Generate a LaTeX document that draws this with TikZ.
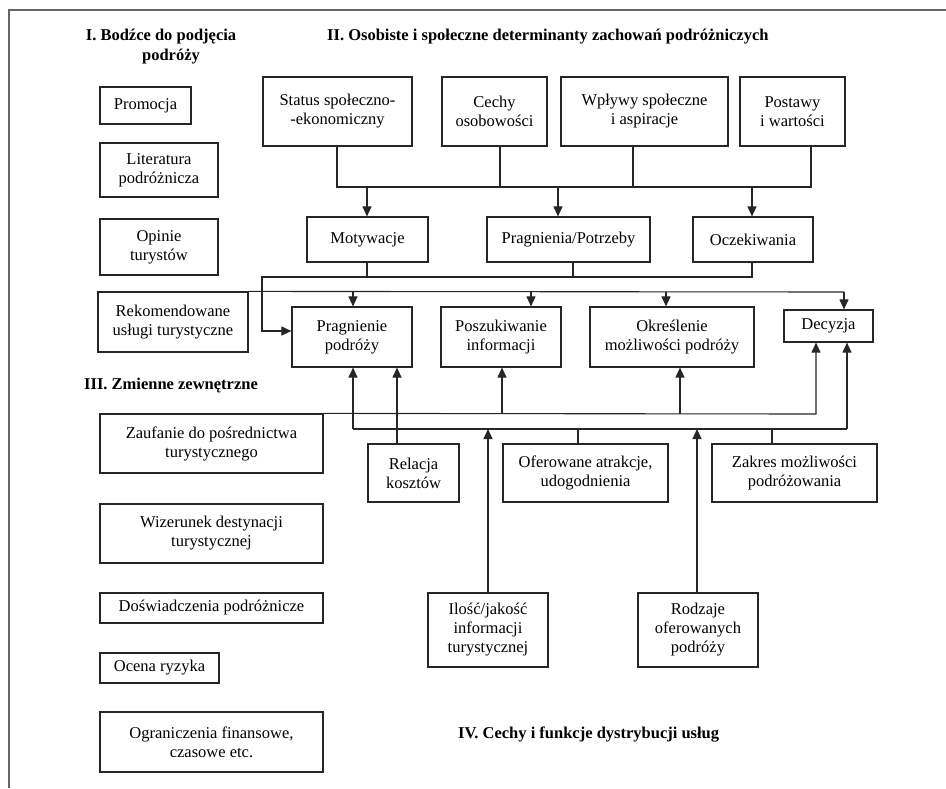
\documentclass[tikz,border=0pt]{standalone}
\usepackage{fontspec}
\setmainfont{Liberation Serif}
\usetikzlibrary{arrows.meta}
\begin{document}
\begin{tikzpicture}[x=1pt,y=-1pt,
  box/.style={draw=black!85, line width=1.2pt, inner sep=0pt, align=center,
    font=\fontsize{16.5}{19}\selectfont},
  conn/.style={draw=black!85, line width=1.1pt},
  arr/.style={conn, -{Triangle[length=10pt,width=9pt]}},
  head/.style={font=\fontsize{16.5}{20}\selectfont\bfseries, align=center, inner sep=0pt}]
\useasboundingbox (0,0) rectangle (946,788);
\fill[white] (0,0) rectangle (946,788);
% frame
\draw[line width=2pt, black!60] (9,788) -- (9,10) -- (946,10);
% headings
\node[head] (h1) at (161,47) {I. Bodźce do podjęcia\\\hspace*{20pt}podróży};
\node[head, anchor=west] (h2) at (327,37) {II. Osobiste i społeczne determinanty zachowań podróżniczych};
\node[head, anchor=west] (h3) at (84,386) {III. Zmienne zewnętrzne};
\node[head, anchor=west] (h4) at (458,735) {IV. Cechy i funkcje dystrybucji usług};
% left column I
\node[box, minimum width=91pt, minimum height=37pt] (prom) at (145.5,105.5) {Promocja};
\node[box, minimum width=118pt, minimum height=54pt] (lit) at (159,170) {Literatura\\podróżnicza};
\node[box, minimum width=118pt, minimum height=56pt] (opin) at (159,247) {Opinie\\turystów};
\node[box, minimum width=150pt, minimum height=60pt] (rek) at (173,322) {Rekomendowane\\usługi turystyczne};
% top row II
\node[box, minimum width=149pt, minimum height=69pt] (status) at (337.5,111.5) {Status społeczno-\\-ekonomiczny};
\node[box, minimum width=105pt, minimum height=69pt] (cechy) at (494.5,111.5) {Cechy\\osobowości};
\node[box, minimum width=167pt, minimum height=69pt] (wplywy) at (644.5,111.5) {Wpływy społeczne\\i aspiracje};
\node[box, minimum width=105pt, minimum height=69pt] (postawy) at (792.5,111.5) {Postawy\\i wartości};
% middle row
\node[box, minimum width=121pt, minimum height=45pt] (motyw) at (367.5,239.5) {Motywacje};
\node[box, minimum width=163pt, minimum height=45pt] (pragn) at (568.5,239.5) {Pragnienia/Potrzeby};
\node[box, minimum width=120pt, minimum height=45pt] (oczek) at (753,239.5) {Oczekiwania};
% process row
\node[box, minimum width=120pt, minimum height=60pt] (pragnienie) at (352,337) {Pragnienie\\podróży};
\node[box, minimum width=120pt, minimum height=60pt] (poszuk) at (501,337) {Poszukiwanie\\informacji};
\node[box, minimum width=164pt, minimum height=60pt] (okr) at (672,337) {Określenie\\możliwości podróży};
\node[box, minimum width=89pt, minimum height=32pt] (decyzja) at (828.5,326) {Decyzja};
% III column
\node[box, minimum width=223pt, minimum height=59pt] (zauf) at (211.5,443.5) {Zaufanie do pośrednictwa\\turystycznego};
\node[box, minimum width=223pt, minimum height=59pt] (wizer) at (211.5,533.5) {Wizerunek destynacji\\turystycznej};
\node[box, minimum width=223pt, minimum height=30pt] (dosw) at (211.5,608) {Doświadczenia podróżnicze};
\node[box, minimum width=119pt, minimum height=30pt] (ocena) at (159.5,668) {Ocena ryzyka};
\node[box, minimum width=223pt, minimum height=60pt] (ogran) at (211.5,742) {Ograniczenia finansowe,\\czasowe etc.};
% IV
\node[box, minimum width=91pt, minimum height=58pt] (relacja) at (413.5,473) {Relacja\\kosztów};
\node[box, minimum width=165pt, minimum height=58pt] (ofer) at (585.5,473) {Oferowane atrakcje,\\udogodnienia};
\node[box, minimum width=165pt, minimum height=58pt] (zakres) at (794.5,473) {Zakres możliwości\\podróżowania};
\node[box, minimum width=120pt, minimum height=74pt] (ilosc) at (488,630) {Ilość/jakość\\informacji\\turystycznej};
\node[box, minimum width=120pt, minimum height=74pt] (rodzaje) at (698,630) {Rodzaje\\oferowanych\\podróży};
% top bus
\coordinate (t1) at (337,187); \coordinate (t2) at (500,187);
\coordinate (t3) at (633,187); \coordinate (t4) at (811,187);
\draw[conn] (t1 |- status.south) -- (t1) -- (t4) -- (t4 |- postawy.south);
\draw[conn] (t2 |- cechy.south) -- (t2);
\draw[conn] (t3 |- wplywy.south) -- (t3);
\coordinate (a1) at (367,187); \coordinate (a2) at (558,187); \coordinate (a3) at (752,187);
\draw[arr] (a1) -- (a1 |- motyw.north);
\draw[arr] (a2) -- (a2 |- pragn.north);
\draw[arr] (a3) -- (a3 |- oczek.north);
% middle bus
\coordinate (m0) at (262,277); \coordinate (m1) at (367,277);
\coordinate (m2) at (573,277); \coordinate (m3) at (752,277);
\coordinate (m4) at (262,331);
\draw[conn] (m1 |- motyw.south) -- (m1);
\draw[conn] (m2 |- pragn.south) -- (m2);
\draw[arr] (m3 |- oczek.south) -- (m3) -- (m0) -- (m4) -- (m4 -| pragnienie.west);
% recommended bus
\coordinate (r1) at (844,292);
\coordinate (r2) at (353,292); \coordinate (r3) at (531,292); \coordinate (r4) at (666,292);
\draw[conn] (rek.north east) -- (r1);
\draw[arr] (r2) -- (r2 |- pragnienie.north);
\draw[arr] (r3) -- (r3 |- poszuk.north);
\draw[arr] (r4) -- (r4 |- okr.north);
\draw[arr] (r1) -- (r1 |- decyzja.north);
% line A (from III)
\coordinate (A1) at (816,414); \coordinate (A2) at (502,414); \coordinate (A3) at (680,414);
\draw[arr] (zauf.north east) -- (A1) -- (A1 |- decyzja.south);
\draw[arr] (A2) -- (A2 |- poszuk.south);
\draw[arr] (A3) -- (A3 |- okr.south);
% line B (from IV)
\coordinate (B0) at (353,429); \coordinate (B1) at (847,429);
\coordinate (B2) at (578,429); \coordinate (B3) at (772,429);
\coordinate (B4) at (488,429); \coordinate (B5) at (697,429);
\draw[conn] (B0) -- (B1);
\draw[arr] (B0) -- (B0 |- pragnienie.south);
\draw[arr] (B1) -- (B1 |- decyzja.south);
\draw[conn] (B2 |- ofer.north) -- (B2);
\draw[conn] (B3 |- zakres.north) -- (B3);
\draw[arr] (B4 |- ilosc.north) -- (B4);
\draw[arr] (B5 |- rodzaje.north) -- (B5);
% relacja
\coordinate (R) at (397,0);
\draw[arr] (R |- relacja.north) -- (R |- pragnienie.south);
\end{tikzpicture}
\end{document}
